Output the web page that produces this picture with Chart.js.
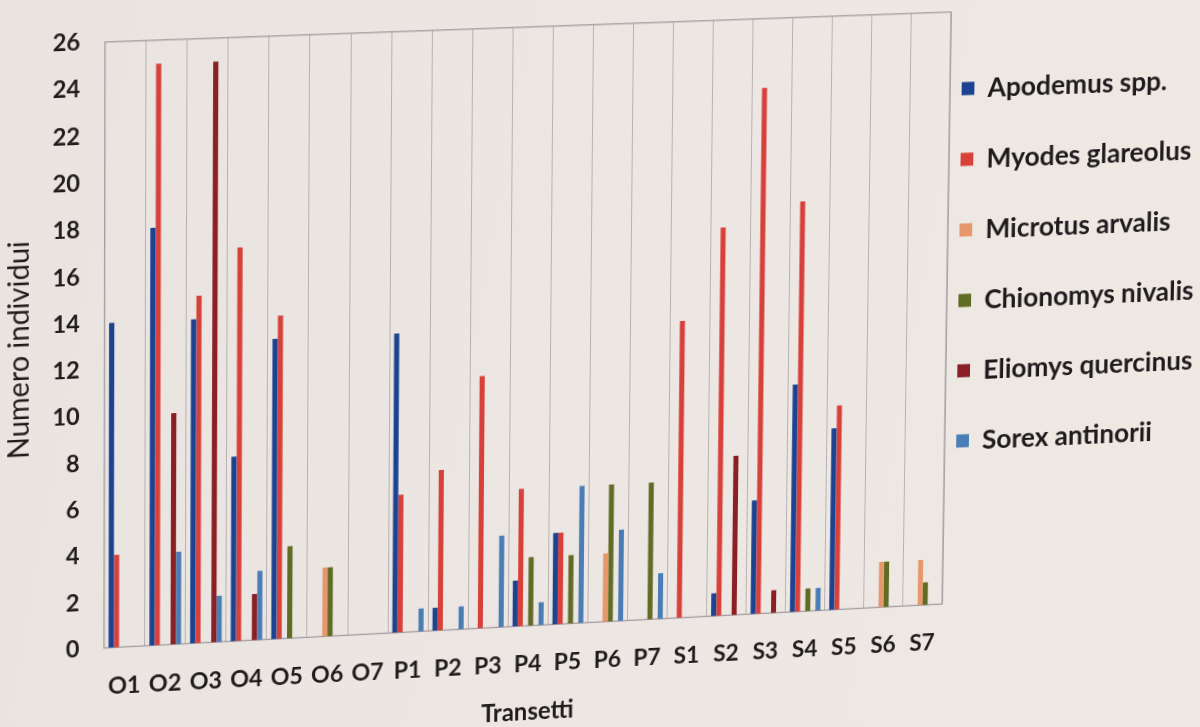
<!DOCTYPE html>
<html>
<head>
<meta charset="utf-8">
<title>Transetti – Numero individui</title>
<script src="https://cdn.jsdelivr.net/npm/chart.js@4.4.1/dist/chart.umd.min.js"></script>
<style>
  html, body { margin: 0; padding: 0; width: 1200px; height: 727px; overflow: hidden;
               background: linear-gradient(100deg, #eae4e0 0%, #ede7e3 55%, #efe9e4 100%); }
  #sheet { position: absolute; left: 0; top: 0; width: 1300px; height: 727px; transform-origin: 0 0; }
  canvas { display: block; }
</style>
</head>
<body>
<div id="sheet"><canvas id="chart" width="1300" height="727"></canvas></div>
<script>
// Transects
const transetti = ['O1','O2','O3','O4','O5','O6','O7',
                   'P1','P2','P3','P4','P5','P6','P7',
                   'S1','S2','S3','S4','S5','S6','S7'];

// Individuals captured per transect (null = none)
const apodemus   = [14, 18, 14,  8, 13, null, null, 13,  1, null,  2,  4, null, null, null,  1,  5, 10,  8, null, null];
const myodes     = [ 4, 25, 15, 17, 14, null, null,  6,  7,   11,  6,  4, null, null,   13, 17, 23, 18,  9, null, null];
const microtus   = [null, null, null, null, null, 3, null, null, null, null, null, null, 3, null, null, null, null, null, null, 2, 2];
const chionomys  = [null, null, null, null, 4, 3, null, null, null, null, 3, 3, 6, 6, null, null, null, 1, null, 2, 1];
const eliomys    = [null, 10, 25, 2, null, null, null, null, null, null, null, null, null, null, null, 7, 1, null, null, null, null];
const sorex      = [null, 4, 2, 3, null, null, null, 1, 1, 4, 1, 6, 4, 2, null, null, null, 1, null, null, null];

const speciesNames = ['Apodemus spp.', 'Myodes glareolus', 'Microtus arvalis',
                      'Chionomys nivalis', 'Eliomys quercinus', 'Sorex antinorii'];
const speciesValues = [apodemus, myodes, microtus, chionomys, eliomys, sorex];
const speciesColors = ['#1c4391', '#d8403a', '#e7976c', '#606b24', '#8a2026', '#4a7db5'];

// Y scale
const yMin = 0, yMax = 26, yStep = 2;

// The printed sheet is seen slightly at an angle: corners of the plot frame on the page
const frameOnPage = [[105, 42], [951, 12], [104, 648], [942, 604]];

const ink = '#1f1b1c';
const tickFont = { family: 'Lato', size: 23, weight: 'bold' };
const legendFont = { family: 'Lato', size: 27, weight: 'bold' };

// Border around the plot area
const framePlugin = {
  id: 'plotFrame',
  beforeDatasetsDraw(chart) {
    const { ctx, chartArea: a } = chart;
    ctx.save();
    ctx.strokeStyle = '#a49da1';
    ctx.lineWidth = 1.3;
    ctx.strokeRect(a.left, a.top, a.right - a.left, a.bottom - a.top);
    ctx.restore();
  }
};

// Bring the legend column close to the plot frame, keeping room for the longest name
const legendGap = 12;
const legendPlacement = {
  id: 'legendPlacement',
  afterLayout(chart) {
    const lg = chart.legend;
    if (!lg) return;
    lg.left = chart.chartArea.right + legendGap - lg.options.labels.padding;
    lg.right = chart.width;
    lg.width = lg.right - lg.left;
  }
};

const chart = new Chart(document.getElementById('chart'), {
  type: 'bar',
  data: {
    labels: transetti,
    datasets: speciesNames.map((name, i) => ({
      label: name,
      data: speciesValues[i],
      backgroundColor: speciesColors[i],
      borderWidth: 0,
      categoryPercentage: 0.78,
      barPercentage: 0.98
    }))
  },
  options: {
    responsive: false,
    animation: false,
    devicePixelRatio: 1,
    layout: { padding: { top: 15, left: 0, right: 100, bottom: 3 } },
    plugins: {
      tooltip: { enabled: false },
      legend: {
        position: 'right',
        align: 'start',
        maxWidth: 254,
        title: { display: true, text: '', font: { size: 12 }, padding: { top: 28, bottom: 0 } },
        labels: {
          boxWidth: 13,
          boxHeight: 13,
          padding: 43,
          color: ink,
          font: legendFont
        }
      }
    },
    scales: {
      x: {
        grid: { display: true, offset: true, color: '#b8b1b2', lineWidth: 1, drawTicks: false },
        border: { display: false },
        ticks: { color: ink, font: tickFont, padding: 24, maxRotation: 0, autoSkip: false },
        title: {
          display: true, text: 'Transetti', color: ink,
          font: { family: 'Lato', size: 24, weight: 'bold', lineHeight: 1 },
          padding: { top: -2, bottom: 0 }
        }
      },
      y: {
        min: yMin, max: yMax,
        grid: { display: false, drawTicks: false },
        border: { display: false },
        ticks: { stepSize: yStep, color: ink, font: tickFont, padding: 24 },
        title: {
          display: true, text: 'Numero individui', color: ink,
          font: { family: 'Lato', size: 28, weight: 'normal', lineHeight: 1 },
          padding: { top: 8, bottom: -6 }
        }
      }
    }
  },
  plugins: [framePlugin, legendPlacement]
});

// Projective map from the flat plot frame onto its place on the page
function solveHomography(src, dst) {
  const A = [], b = [];
  for (let i = 0; i < 4; i++) {
    const [x, y] = src[i], [u, v] = dst[i];
    A.push([x, y, 1, 0, 0, 0, -u * x, -u * y]); b.push(u);
    A.push([0, 0, 0, x, y, 1, -v * x, -v * y]); b.push(v);
  }
  const n = 8;
  for (let c = 0; c < n; c++) {
    let p = c;
    for (let r = c + 1; r < n; r++) if (Math.abs(A[r][c]) > Math.abs(A[p][c])) p = r;
    [A[c], A[p]] = [A[p], A[c]]; [b[c], b[p]] = [b[p], b[c]];
    for (let r = 0; r < n; r++) {
      if (r === c) continue;
      const f = A[r][c] / A[c][c];
      for (let k = c; k < n; k++) A[r][k] -= f * A[c][k];
      b[r] -= f * b[c];
    }
  }
  return b.map((val, i) => val / A[i][i]);
}

const area = chart.chartArea;
const h = solveHomography(
  [[area.left, area.top], [area.right, area.top], [area.left, area.bottom], [area.right, area.bottom]],
  frameOnPage
);
document.getElementById('sheet').style.transform =
  `matrix3d(${h[0]},${h[3]},0,${h[6]},${h[1]},${h[4]},0,${h[7]},0,0,1,0,${h[2]},${h[5]},0,1)`;
</script>
</body>
</html>
